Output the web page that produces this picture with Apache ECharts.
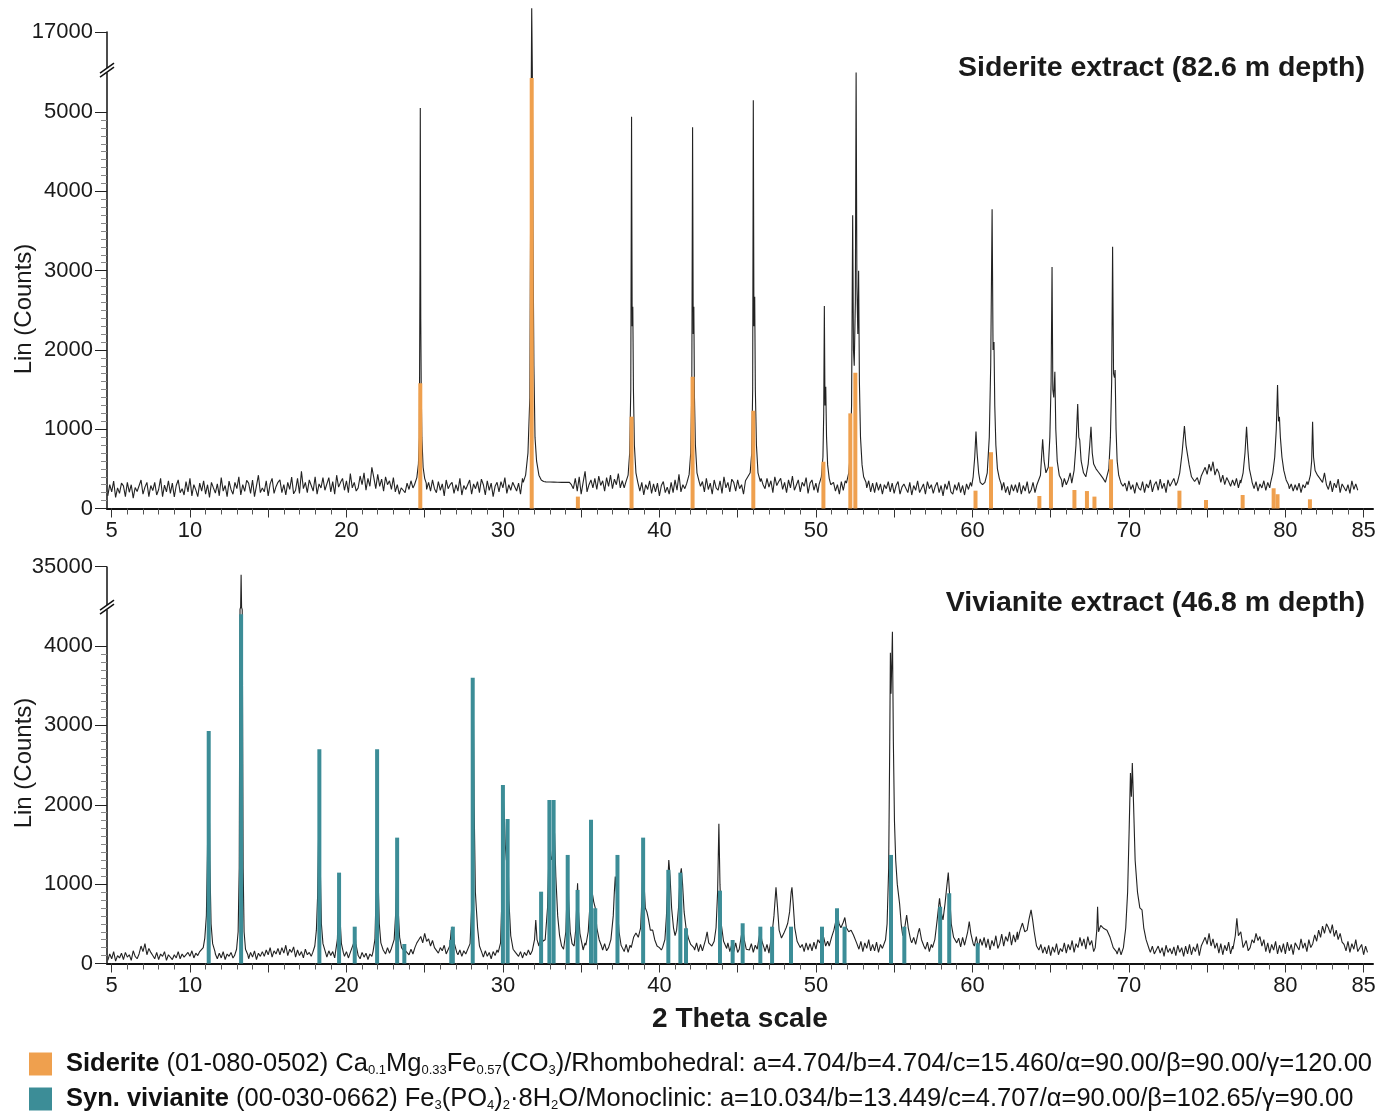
<!DOCTYPE html>
<html><head><meta charset="utf-8">
<script src="https://cdn.jsdelivr.net/npm/echarts@6/dist/echarts.min.js"></script>
<style>html,body{margin:0;padding:0;background:#fff}#c{width:1380px;height:1114px}</style>
</head><body><div id="c"></div>
<script>
// ---------- DATA ----------
// background samples start at 4.75 deg, one every 0.125 deg (8 per line = 1 degree)
const BG_START = 4.75, BG_STEP = 0.125;
const sideriteBackground = [
160,300,210,345,140,260,190,320, 285,150,330,205,300,130,265,215, 200,360,180,270,330,150,290,225,
330,170,240,380,150,295,210,350, 190,320,145,290,360,200,250,170, 340,210,380,160,300,235,150,320,
220,350,180,300,140,330,260,195, 310,160,390,220,290,150,345,240, 180,330,250,400,170,300,215,355,
320,190,360,150,285,420,200,260, 210,350,160,310,380,190,275,330, 360,200,300,170,330,240,395,185,
230,380,190,470,250,330,200,360, 340,220,400,180,310,260,390,230, 250,390,210,340,180,420,270,330,
380,230,350,200,440,260,330,220, 260,410,300,450,230,380,280,520, 390,250,430,280,370,220,400,300,
350,240,390,210,300,180,260,230, 200,320,240,350,260,380,300,330, 340,300,380,240,330,220,360,250,
200,340,230,310,160,360,250,300, 330,190,300,220,380,170,290,240, 240,360,180,310,250,340,200,370,
300,170,350,230,320,150,280,330, 210,340,260,390,190,300,230,330, 350,220,320,180,380,250,300,360,
600,500,450,400,370,350,345,340, 336,330,334,328,333,327,331,335, 330,326,332,324,329,300,250,380,
220,400,180,330,470,210,300,360, 260,380,240,410,290,350,220,390, 280,420,250,370,300,440,260,350,
260,390,420,600,900,600,420,330, 220,330,170,300,240,350,190,310, 210,320,160,290,340,200,270,180,
330,200,360,230,430,210,300,250, 240,350,500,900,700,450,330,280, 340,210,380,240,320,180,360,260,
230,350,190,400,260,330,210,370, 330,220,360,250,300,180,350,240, 260,400,700,1500,900,450,380,300,
250,380,270,350,200,400,290,340, 380,240,330,200,360,260,410,230, 250,360,210,330,280,390,190,320,
360,230,320,200,340,260,300,250, 400,350,300,330,220,300,180,340, 230,350,400,600,900,2000,1500,800,
900,600,400,330,260,350,210,320, 200,330,230,310,180,300,250,340, 210,320,190,290,340,180,270,310,
300,200,330,170,290,230,350,200, 220,310,180,340,250,300,190,280, 330,200,290,160,310,240,350,210,
180,300,230,330,200,290,170,310, 240,330,450,700,500,350,300,330, 450,900,3000,1500,600,400,330,300,
320,230,330,200,280,170,300,220, 300,200,330,180,290,220,340,190, 230,330,200,300,450,700,600,450,
500,900,3000,1500,1000,600,420,360, 270,380,300,360,450,700,1000,800, 900,1300,700,450,500,1000,700,500,
500,460,420,380,350,330,350,400, 900,3000,1700,1000,500,380,320,280, 320,220,350,240,300,190,330,260,
230,340,200,310,260,360,210,300, 340,230,370,250,320,200,360,280, 260,380,290,400,450,700,1000,800,
780,500,400,380,330,390,300,410, 400,520,430,560,470,590,420,500, 450,330,420,300,390,340,280,360,
290,380,260,360,600,1000,700,450, 400,330,250,340,220,310,260,350, 230,330,260,400,650,1500,1100,650,
480,360,300,300,250,310,220,300, 230,320,200,300,260,340,500,1000, 600,450,420,380,400,330,450,300,
240,350,210,320,260,370,200,310, 330,220,300,190,350,240,310,230
];
const sideritePeaks = [
 [[24.35,300],[24.5,390],[24.6,560],[24.66,900],[24.7,3000],[24.72,5050],[24.75,2400],[24.78,1500],[24.82,900],[24.9,520],[25.0,380],[25.1,320]],
 [[31.3,330],[31.45,420],[31.6,700],[31.72,1400],[31.8,5000],[31.84,17300],[31.88,6000],[31.92,3500],[31.98,1800],[32.05,900],[32.15,600],[32.3,420],[32.45,360],[32.6,340]],
 [[37.85,330],[38.0,420],[38.1,700],[38.17,1500],[38.22,4940],[38.26,2300],[38.3,2545],[38.34,1500],[38.4,800],[38.5,450],[38.62,330]],
 [[41.75,320],[41.9,430],[42.0,700],[42.07,1500],[42.12,4810],[42.16,2200],[42.2,2545],[42.24,1400],[42.3,800],[42.4,450],[42.55,330]],
 [[45.6,330],[45.8,450],[45.9,700],[45.96,1500],[46.0,5150],[46.04,2300],[46.09,2670],[46.13,1500],[46.2,800],[46.3,450],[46.45,340]],
 [[50.2,300],[50.35,400],[50.45,650],[50.5,1200],[50.54,2553],[50.58,1300],[50.63,1536],[50.68,900],[50.75,550],[50.85,380],[50.95,300]],
 [[51.95,320],[52.1,450],[52.2,700],[52.28,1300],[52.35,3700],[52.4,2000],[52.45,1800],[52.52,2600],[52.57,5517],[52.62,2800],[52.68,2200],[52.73,3000],[52.78,1600],[52.85,900],[52.95,550],[53.05,400],[53.2,330]],
 [[59.95,280],[60.05,400],[60.15,650],[60.23,970],[60.3,700],[60.4,450],[60.5,330],[60.65,300],[60.8,330],[60.95,450],[61.08,900],[61.17,1800],[61.26,3775],[61.32,2000],[61.38,2100],[61.43,1300],[61.5,800],[61.6,500],[61.72,380],[61.85,300]],
 [[64.2,280],[64.35,420],[64.49,873],[64.58,600],[64.7,450],[64.85,520],[64.95,900],[65.03,1600],[65.09,3045],[65.14,1500],[65.2,1400],[65.27,1725],[65.33,1000],[65.42,600],[65.55,420],[65.7,360]],
 [[66.35,320],[66.5,480],[66.62,800],[66.73,1318],[66.8,900],[66.86,864],[66.95,600],[67.1,450],[67.25,400],[67.4,560],[67.5,800],[67.58,1032],[67.66,700],[67.75,560],[67.9,500],[68.05,460],[68.2,420],[68.35,380],[68.5,330]],
 [[68.6,340],[68.72,500],[68.82,900],[68.9,1600],[68.96,3300],[69.02,1700],[69.08,1650],[69.12,1747],[69.18,1000],[69.25,600],[69.35,420],[69.5,320]],
 [[73.1,330],[73.25,450],[73.4,700],[73.55,1040],[73.65,800],[73.75,780],[73.85,550],[74.0,400],[74.2,340]],
 [[77.15,320],[77.3,450],[77.42,700],[77.52,1032],[77.6,750],[77.7,500],[77.85,360]],
 [[79.05,320],[79.2,450],[79.32,650],[79.42,1000],[79.5,1557],[79.56,1100],[79.62,1158],[79.68,900],[79.78,650],[79.9,480],[80.05,360],[80.2,300]],
 [[81.45,300],[81.6,420],[81.68,600],[81.74,1095],[81.8,650],[81.9,480],[82.05,420],[82.2,380]]
];
const sideriteStickX = [24.72,31.84,34.79,38.22,42.12,46.0,50.48,52.2,52.52,60.2,61.19,64.28,65.02,66.52,67.32,67.8,68.86,73.23,74.93,77.27,79.25,79.5,81.57];
const sideriteStickY = [1580,5430,150,1158,1662,1233,590,1200,1712,225,710,158,527,233,220,150,620,225,107,170,255,180,116];

const vivianiteBackground = [
40,120,60,150,30,100,70,130, 50,140,80,110,40,160,90,60, 120,220,150,250,110,190,140,100,
60,140,50,120,90,150,40,110, 130,50,110,70,150,60,120,80, 60,140,90,160,70,130,100,150,
200,300,600,2500,900,300,150,120, 60,130,70,150,50,120,90,140, 70,200,500,5000,5000,500,200,120,
60,140,80,160,50,130,90,150, 90,170,110,200,80,160,120,190, 110,200,130,230,100,180,140,210,
80,170,100,150,70,180,110,140, 90,170,300,800,2600,800,300,170, 80,160,100,150,70,170,300,1100,
300,90,150,70,140,300,440,250, 100,60,140,80,130,50,120,90, 500,2600,900,400,250,180,120,200,
130,190,400,900,1500,500,200,170, 200,150,110,180,120,200,260,300, 340,260,380,280,310,220,290,200,
220,130,200,160,230,120,180,150, 460,250,140,110,170,90,160,120, 140,250,3000,900,450,220,140,140,
80,160,90,140,60,150,100,170, 200,2000,1500,1700,400,200,150,140, 140,160,90,150,70,140,100,170,
110,160,300,500,300,300,400,300, 500,1500,1300,1600,600,300,250,220, 220,180,400,1300,400,230,230,600,
800,600,300,170,260,400,700,1000, 780,700,450,300,220,170,250,160, 200,300,600,1000,900,400,250,200,
150,240,140,230,330,385,300,450, 900,1500,700,650,560,420,420,300, 220,200,200,170,300,600,1200,1100,
700,450,350,420,700,1100,1200,1000, 320,240,200,200,170,260,150,240, 160,300,400,260,220,280,450,900,
1760,600,280,220,190,260,150,240, 150,260,140,230,330,450,300,180, 170,250,140,230,300,420,280,190,
150,240,130,380,600,960,420,320, 380,450,507,650,900,960,450,280, 280,200,160,240,150,260,170,250,
160,270,180,300,260,400,330,220, 280,330,420,560,633,500,450,520, 520,580,450,400,420,360,300,250,
180,280,150,260,190,300,160,240, 160,270,140,240,190,300,500,1200, 3900,3400,4180,1800,1000,750,420,480,
611,450,300,260,330,240,400,444, 300,220,180,270,150,240,300,550, 822,650,550,750,1000,1145,500,330,
330,260,260,320,210,330,230,400, 500,380,250,220,340,200,310,230, 330,200,310,170,290,220,350,190,
250,370,220,340,280,400,230,360, 270,400,420,510,400,420,560,675, 675,550,400,220,170,240,130,210,
120,230,100,210,140,250,110,190, 150,260,130,240,170,290,140,250, 200,330,220,310,180,340,230,290,
150,420,716,480,440,420,330,200, 330,200,150,120,120,200,110,200, 900,2400,2525,1300,900,700,675,450,
675,450,300,180,180,140,220,120, 110,220,130,200,90,230,140,190, 120,210,100,230,140,200,90,220,
120,240,110,210,150,250,100,220, 200,330,240,380,220,310,190,260, 130,250,110,230,160,270,120,220,
350,570,350,400,200,180,290,160, 200,300,260,380,290,340,220,300, 150,260,130,240,170,280,120,230,
140,250,120,270,160,240,110,260, 280,170,310,190,260,150,300,200, 250,360,280,420,330,470,380,500,
450,380,490,340,420,300,380,270, 240,160,280,140,250,180,300,150, 130,240,110,220,140
];
const vivianitePeaks = [
 [[10.7,140],[10.85,200],[10.95,320],[11.05,600],[11.12,1400],[11.2,2900],[11.27,1300],[11.35,500],[11.45,250],[11.6,150]],
 [[12.85,100],[12.98,180],[13.08,400],[13.15,1200],[13.2,5000],[13.24,20000],[13.27,34900],[13.3,18000],[13.34,4500],[13.4,1200],[13.46,400],[13.55,180],[13.7,110]],
 [[17.85,140],[17.98,220],[18.08,420],[18.16,860],[18.22,1600],[18.27,2650],[18.32,1300],[18.4,500],[18.5,250],[18.65,150]],
 [[19.3,140],[19.42,300],[19.49,700],[19.53,1100],[19.58,600],[19.68,250],[19.8,140]],
 [[20.35,130],[20.45,250],[20.53,440],[20.6,250],[20.72,130]],
 [[21.7,150],[21.82,300],[21.9,900],[21.96,2650],[22.02,1100],[22.1,500],[22.2,260],[22.35,170]],
 [[22.9,170],[23.05,300],[23.15,640],[23.2,1000],[23.24,1550],[23.3,700],[23.4,330],[23.52,200],[23.62,170],[23.7,240],[23.78,160],[23.9,140]],
 [[26.45,140],[26.6,220],[26.7,420],[26.8,460],[26.9,250],[27.05,140]],
 [[27.75,140],[27.9,250],[28.0,700],[28.05,1800],[28.1,3500],[28.16,2000],[28.24,900],[28.3,700],[28.38,450],[28.5,220],[28.65,140]],
 [[29.7,140],[29.85,260],[29.95,900],[30.02,2100],[30.08,1900],[30.15,1500],[30.22,1300],[30.3,1750],[30.38,800],[30.5,350],[30.65,180],[30.8,140]],
 [[31.9,150],[32.02,300],[32.1,548],[32.18,300],[32.3,220],[32.4,350],[32.46,430],[32.55,280],[32.7,300],[32.85,700],[32.95,1450],[33.05,1350],[33.12,1305],[33.2,1500],[33.3,1640],[33.38,1100],[33.5,600],[33.62,350],[33.75,220]],
 [[33.9,200],[34.02,400],[34.1,900],[34.14,1300],[34.2,800],[34.3,400],[34.42,250]],
 [[34.55,220],[34.65,420],[34.72,750],[34.77,1011],[34.83,650],[34.92,380],[35.05,250]],
 [[35.3,230],[35.45,400],[35.55,700],[35.63,1100],[35.7,900],[35.8,780],[35.9,700],[36.0,450],[36.15,300],[36.3,220]],
 [[36.75,200],[36.9,300],[37.05,600],[37.12,900],[37.18,1095],[37.25,900],[37.32,700],[37.42,400],[37.55,230]],
 [[38.2,200],[38.35,330],[38.5,385],[38.65,330],[38.8,450],[38.9,900],[38.96,1500],[39.02,1000],[39.1,700],[39.2,650],[39.3,560],[39.42,420],[39.57,420],[39.7,300],[39.85,220],[40.0,200]],
 [[40.2,200],[40.35,300],[40.45,600],[40.55,1100],[40.6,1305],[40.68,1100],[40.78,700],[40.9,450],[41.0,350],[41.1,420],[41.22,700],[41.32,1100],[41.4,1200],[41.48,1000],[41.58,650],[41.7,450],[41.85,320],[42.0,240],[42.2,200]],
 [[42.8,180],[42.95,300],[43.05,400],[43.15,260],[43.35,220],[43.5,280],[43.62,450],[43.72,900],[43.8,1760],[43.87,1000],[43.95,500],[44.1,280],[44.3,190]],
 [[45.1,180],[45.22,330],[45.32,450],[45.42,300],[45.55,180]],
 [[46.25,180],[46.35,300],[46.45,420],[46.55,280],[46.7,190]],
 [[47.05,200],[47.2,380],[47.32,600],[47.45,960],[47.55,700],[47.65,420],[47.8,320],[47.95,380],[48.1,450],[48.2,507],[48.32,650],[48.42,900],[48.47,960],[48.55,750],[48.65,450],[48.8,280],[49.0,200]],
 [[50.85,220],[51.0,330],[51.15,420],[51.3,560],[51.38,633],[51.48,500],[51.6,450],[51.75,520],[51.85,580],[51.95,450],[52.1,400],[52.25,420],[52.4,360],[52.6,260]],
 [[54.3,200],[54.45,300],[54.55,500],[54.65,1200],[54.72,2800],[54.76,3915],[54.8,3400],[54.85,3800],[54.89,4180],[54.95,2800],[55.02,1800],[55.1,1300],[55.2,1000],[55.35,750],[55.45,500]],
 [[55.55,350],[55.7,480],[55.8,611],[55.9,450],[56.05,300]],
 [[56.4,250],[56.55,400],[56.62,444],[56.75,300],[56.9,220]],
 [[57.45,200],[57.6,300],[57.75,550],[57.9,822],[58.0,650],[58.12,550],[58.25,750],[58.38,1000],[58.46,1145],[58.55,850],[58.65,500],[58.8,330],[59.0,260]],
 [[59.55,250],[59.7,400],[59.8,527],[59.9,380],[60.05,250]],
 [[62.9,300],[63.05,420],[63.2,510],[63.35,400],[63.5,420],[63.62,560],[63.75,675],[63.85,550],[63.95,400],[64.1,220],[64.25,170]],
 [[67.85,200],[67.95,420],[68.0,716],[68.06,400],[68.2,480],[68.4,440],[68.6,420],[68.8,330],[69.0,200],[69.2,150]],
 [[69.5,110],[69.65,200],[69.8,450],[69.92,900],[70.02,1700],[70.1,2400],[70.16,2100],[70.22,2525],[70.3,2000],[70.4,1300],[70.55,900],[70.7,700],[70.84,675],[70.95,450],[71.1,300],[71.3,180]],
 [[76.65,180],[76.8,350],[76.9,570],[77.0,350],[77.15,400],[77.3,200]]
];
const vivianiteStickX = [11.2,13.27,18.27,19.53,20.53,21.96,23.24,23.7,26.7,26.8,28.07,30.0,30.3,32.44,32.97,33.24,34.14,34.77,35.63,35.9,37.32,38.96,40.57,41.34,41.7,43.87,44.68,45.32,46.45,47.2,48.41,50.39,51.35,51.83,54.8,55.65,57.94,58.52,60.34];
const vivianiteStickY = [2930,4400,2700,1145,464,2700,1586,246,296,464,3600,2250,1820,905,2060,2060,1368,927,1810,696,1368,1586,1180,1145,444,918,296,507,464,464,464,464,696,464,1368,464,716,885,255];

const xLabelValues = [5,10,20,30,40,50,60,70,80,85];
const sideriteYLabels = [0,1000,2000,3000,4000,5000,17000];
const vivianiteYLabels = [0,1000,2000,3000,4000,35000];
const sideriteBreak = {start: 5500, end: 16550, gap: '1%'};
const vivianiteBreak = {start: 4460, end: 34520, gap: '1.2%'};

// ---------- BUILD ----------
const FONT = "'Liberation Sans', Arial, Helvetica, sans-serif";
const ORANGE = '#EFA04E', TEAL = '#3C8D97';
const X_MIN = 4.7, X_MAX = 85.6;

function buildTrace(bg, peaks) {
  const pts = [];
  bg.forEach((v, i) => {
    const x = +(BG_START + i * BG_STEP).toFixed(3);
    if (!peaks.some(g => x >= g[0][0] && x <= g[g.length - 1][0])) pts.push([x, v]);
  });
  peaks.forEach(g => g.forEach(p => pts.push(p)));
  pts.sort((a, b) => a[0] - b[0]);
  return pts;
}
const zip = (xs, ys) => xs.map((x, i) => [x, ys[i]]);

const minorX = []; for (let v = 5; v <= 85; v++) minorX.push(v);
const majorX = []; for (let v = 5; v <= 85; v += 5) majorX.push(v);

function xAxes(gridIndex, withName) {
  return [
    { type: 'value', gridIndex, position: 'bottom', min: X_MIN, max: X_MAX,
      axisLine: { show: true, onZero: false, lineStyle: { color: '#111', width: 2 } },
      axisTick: { show: true, customValues: minorX, length: 6, lineStyle: { color: '#555', width: 1 } },
      axisLabel: { customValues: xLabelValues, fontSize: 22, color: '#1a1a1a', margin: 11, fontFamily: FONT, formatter: v => String(v) },
      splitLine: { show: false },
      name: withName ? '2 Theta scale' : '', nameLocation: 'middle', nameGap: 42,
      nameTextStyle: { fontSize: 28, fontWeight: 'bold', color: '#1a1a1a', fontFamily: FONT } },
    { type: 'value', gridIndex, position: 'bottom', min: X_MIN, max: X_MAX,
      axisLine: { show: false, onZero: false },
      axisTick: { show: true, customValues: majorX, length: 9, lineStyle: { color: '#333', width: 1 } },
      axisLabel: { show: false }, splitLine: { show: false } }
  ];
}
function yAxes(gridIndex, max, brk, labels) {
  const top = labels[labels.length - 2];
  const minor = []; for (let v = 100; v < top; v += 100) if (v % 1000) minor.push(v);
  return [
    { type: 'value', gridIndex, position: 'left', min: 0, max, breaks: [brk], breakArea: { show: false },
      axisLine: { show: true, onZero: false, lineStyle: { color: '#111', width: 1.5 } },
      axisTick: { show: true, customValues: minor, length: 6, lineStyle: { color: '#888', width: 1 } },
      axisLabel: { show: false }, splitLine: { show: false } },
    { type: 'value', gridIndex, position: 'left', min: 0, max, breaks: [brk], breakArea: { show: false },
      axisLine: { show: false, onZero: false },
      axisTick: { show: true, customValues: labels, length: 12, lineStyle: { color: '#222', width: 1 } },
      axisLabel: { customValues: labels, fontSize: 22, color: '#1a1a1a', margin: 14, fontFamily: FONT, formatter: v => String(v) },
      splitLine: { show: false } }
  ];
}

const chart = echarts.init(document.getElementById('c'), null, { renderer: 'canvas' });
const legendText = {
  'Siderite': '{b|Siderite} {t|(01-080-0502) Ca}{s|0.1}{t|Mg}{s|0.33}{t|Fe}{s|0.57}{t|(CO}{s|3}{t|)/Rhombohedral: a=4.704/b=4.704/c=15.460/α=90.00/β=90.00/γ=120.00}',
  'Syn. vivianite': '{b|Syn. vivianite} {t|(00-030-0662) Fe}{s|3}{t|(PO}{s|4}{t|)}{s|2}{t|·8H}{s|2}{t|O/Monoclinic: a=10.034/b=13.449/c=4.707/α=90.00/β=102.65/γ=90.00}'
};

chart.setOption({
  animation: false,
  backgroundColor: '#fff',
  textStyle: { fontFamily: FONT },
  title: [
    { text: 'Siderite extract (82.6 m depth)', right: 10, top: 49, padding: 5,
      textStyle: { fontSize: 28.5, fontWeight: 'bold', color: '#1a1a1a', fontFamily: FONT } },
    { text: 'Vivianite extract (46.8 m depth)', right: 10, top: 584, padding: 5,
      textStyle: { fontSize: 28.5, fontWeight: 'bold', color: '#1a1a1a', fontFamily: FONT } }
  ],
  legend: {
    data: ['Siderite', 'Syn. vivianite'], orient: 'vertical', left: 29, top: 1051, padding: 0,
    itemWidth: 23, itemHeight: 23, itemGap: 9, icon: 'rect', selectedMode: false,
    formatter: n => legendText[n],
    textStyle: { fontFamily: FONT, fontSize: 25.5, color: '#111',
      rich: {
        b: { fontSize: 25.5, fontWeight: 'bold', color: '#111', fontFamily: FONT, padding: [0, 0, 0, 9], lineHeight: 26, verticalAlign: 'top' },
        t: { fontSize: 25.5, color: '#111', fontFamily: FONT, lineHeight: 26, verticalAlign: 'top' },
        s: { fontSize: 13, color: '#111', fontFamily: FONT, lineHeight: 13, verticalAlign: 'bottom' }
      } }
  },
  grid: [
    { left: 107, right: 7, top: 32, height: 476.5, outerBoundsMode: 'none' },
    { left: 107, right: 7, top: 566.7, height: 396.8, outerBoundsMode: 'none' }
  ],
  xAxis: [...xAxes(0, false), ...xAxes(1, true)],
  yAxis: [...yAxes(0, 17000, sideriteBreak, sideriteYLabels), ...yAxes(1, 35000, vivianiteBreak, vivianiteYLabels)],
  series: [
    { name: 'siderite pattern', type: 'line', xAxisIndex: 0, yAxisIndex: 0, data: buildTrace(sideriteBackground, sideritePeaks),
      showSymbol: false, clip: false, lineStyle: { color: '#222', width: 1.1 }, z: 2 },
    { name: 'Siderite', type: 'bar', xAxisIndex: 0, yAxisIndex: 0, data: zip(sideriteStickX, sideriteStickY),
      barWidth: 4, itemStyle: { color: ORANGE }, z: 3 },
    { name: 'vivianite pattern', type: 'line', xAxisIndex: 2, yAxisIndex: 2, data: buildTrace(vivianiteBackground, vivianitePeaks),
      showSymbol: false, clip: false, lineStyle: { color: '#222', width: 1.1 }, z: 2 },
    { name: 'Syn. vivianite', type: 'bar', xAxisIndex: 2, yAxisIndex: 2, data: zip(vivianiteStickX, vivianiteStickY),
      barWidth: 4, itemStyle: { color: TEAL }, z: 3 }
  ]
});

function breakMarker(yIdx, xIdx, brk) {
  const ax = chart.convertToPixel({ xAxisIndex: xIdx }, X_MIN);
  const y1 = chart.convertToPixel({ yAxisIndex: yIdx }, brk.start);
  const y2 = chart.convertToPixel({ yAxisIndex: yIdx }, brk.end);
  const ym = (y1 + y2) / 2;
  return [
    { type: 'rect', shape: { x: ax - 3, y: ym - 2, width: 6, height: 4 }, style: { fill: '#fff' }, z: 100 },
    { type: 'line', shape: { x1: ax - 7, y1: ym + 7, x2: ax + 7, y2: ym - 3 }, style: { stroke: '#111', lineWidth: 1.5 }, z: 101 },
    { type: 'line', shape: { x1: ax - 7, y1: ym + 3, x2: ax + 7, y2: ym - 7 }, style: { stroke: '#111', lineWidth: 1.5 }, z: 101 }
  ];
}
const yName = (y) => ({ type: 'text', x: 24, y, rotation: Math.PI / 2, z: 50,
  style: { text: 'Lin (Counts)', font: '24px ' + FONT, fill: '#1a1a1a', textAlign: 'center', textVerticalAlign: 'middle' } });

chart.setOption({
  graphic: [
    ...breakMarker(0, 0, sideriteBreak),
    ...breakMarker(2, 2, vivianiteBreak),
    yName(309), yName(763)
  ]
});
</script>
</body></html>
